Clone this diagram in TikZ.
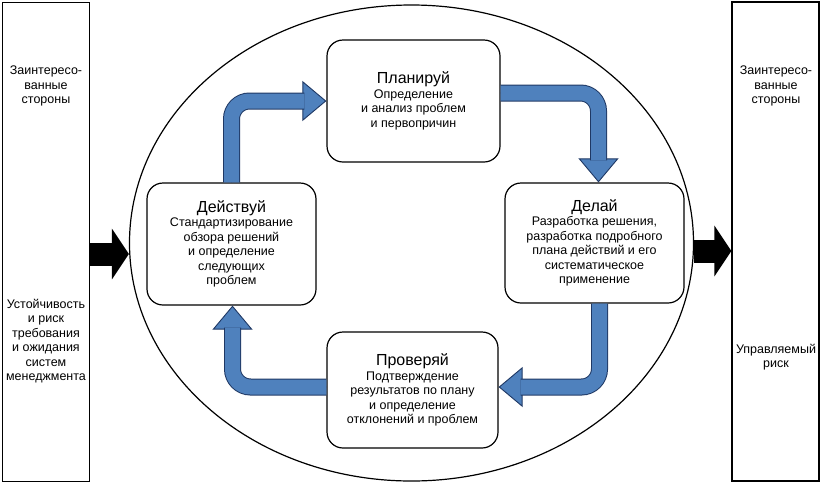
\documentclass[tikz,border=0pt]{standalone}
\usepackage{fontspec}
\setmainfont{Liberation Sans}
\usetikzlibrary{arrows.meta,shapes.geometric}
\definecolor{flowblue}{HTML}{4F81BD}
\definecolor{flowedge}{HTML}{1F3864}
\newcommand{\stagename}[1]{{\fontsize{16}{18}\selectfont #1}}

\begin{document}
\begin{tikzpicture}[x=1pt,y=-1pt,
  panel/.style={draw, line width=1.2pt, minimum width=87pt, minimum height=479pt, inner sep=0pt},
  stage/.style={draw, line width=1.2pt, rounded corners=16pt, align=center, inner sep=2pt,
    font=\fontsize{12.5}{14.5}\selectfont},
  sidetext/.style={align=center, font=\fontsize{12.5}{14.5}\selectfont},
  flowtip/.style={draw=flowedge, line width=0.9pt, rounded corners=18pt,
    -{Triangle[width=40pt,length=24pt,fill=flowblue]}},
  flowbody/.style={draw=flowedge, line width=1pt, double=flowblue, double distance=15pt,
    rounded corners=18pt, shorten >=22pt},
  bigarrow/.style={line width=23pt, -{Triangle[width=50pt,length=17pt]}}]
 \useasboundingbox (0,0) rectangle (822,491);
 \node[draw, ellipse, line width=1.2pt, minimum width=564pt, minimum height=476pt] (ring) at (411.5,243) {};
 \node[panel] (lpanel) at (46,242) {};
 \node[panel] (rpanel) at (775.5,241.5) {};
 \node[sidetext] (lstake) at (46,86) {Заинтересо-\\ванные\\стороны};
 \node[sidetext] (lneeds) at (46,341) {Устойчивость\\и риск\\требования\\и ожидания\\систем\\менеджмента};
 \node[sidetext] (rstake) at (776,86) {Заинтересо-\\ванные\\стороны};
 \node[sidetext] (rrisk) at (776,357) {Управляемый\\риск};
 \node[stage, minimum width=173pt, minimum height=122pt] (plan) at (413.5,101)
  {\stagename{Планируй}\\Определение\\и анализ проблем\\и первопричин};
 \node[stage, minimum width=169pt, minimum height=122pt] (act) at (231.5,244)
  {\stagename{Действуй}\\Стандартизирование\\обзора решений\\и определение\\следующих\\проблем};
 \node[stage, minimum width=179pt, minimum height=120pt] (do) at (594.5,243)
  {\stagename{Делай}\\Разработка решения,\\разработка подробного\\плана действий и его\\систематическое\\применение};
 \node[stage, minimum width=171pt, minimum height=116pt] (check) at (412.5,390)
  {\stagename{Проверяй}\\Подтверждение\\результатов по плану\\и определение\\отклонений и проблем};
 \draw[flowtip] (act.north) |- (plan.west);
 \draw[flowbody] (act.north) |- (plan.west);
 \draw[flowtip] ([yshift=8pt]plan.east) -| ([xshift=4pt]do.north);
 \draw[flowbody] ([yshift=8pt]plan.east) -| ([xshift=4pt]do.north);
 \draw[flowtip] ([xshift=5pt]do.south) |- ([yshift=3pt]check.east);
 \draw[flowbody] ([xshift=5pt]do.south) |- ([yshift=3pt]check.east);
 \draw[flowtip] ([yshift=3pt]check.west) -| ([xshift=1pt]act.south);
 \draw[flowbody] ([yshift=3pt]check.west) -| ([xshift=1pt]act.south);
 \coordinate (lin) at (0,254);
 \coordinate (rin) at (0,251);
 \draw[bigarrow] (lpanel.east |- lin) -- (ring.west |- lin);
 \draw[bigarrow] (ring.east |- rin) -- (rpanel.west |- rin);
\end{tikzpicture}
\end{document}
